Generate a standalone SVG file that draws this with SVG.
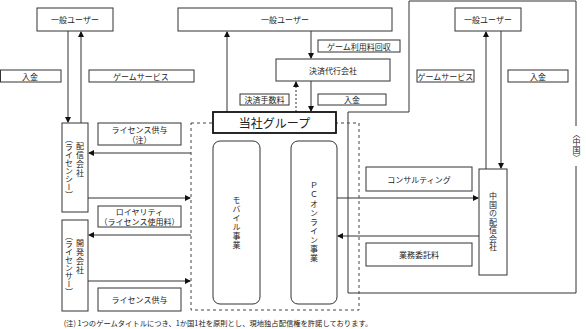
<svg xmlns="http://www.w3.org/2000/svg" width="586" height="329" viewBox="0 0 586 329">
<style>
.b{fill:#fff;stroke:#333;stroke-width:1}
.l{fill:none;stroke:#333;stroke-width:1}
.d{fill:none;stroke:#444;stroke-width:1;stroke-dasharray:3,3}
.t{font-family:"Noto Sans CJK JP","Noto Sans",sans-serif;font-size:8px;fill:#222;text-anchor:middle;dominant-baseline:central}
.v{font-family:"Noto Sans CJK JP","Noto Sans",sans-serif;font-size:8px;fill:#222;text-anchor:middle;writing-mode:vertical-rl}
</style>
<defs>
<marker id="a" markerWidth="6" markerHeight="6" refX="5" refY="3" orient="auto" markerUnits="userSpaceOnUse"><path d="M0,0 L6,3 L0,6 Z" fill="#111"/></marker>
</defs>
<rect width="586" height="329" fill="#fff"/>
<g id="connectors">
<line class="l" x1="68" y1="31" x2="68" y2="122" marker-end="url(#a)"/>
<line class="l" x1="81" y1="123" x2="81" y2="32" marker-end="url(#a)"/>
<line class="l" x1="227" y1="112" x2="227" y2="32" marker-end="url(#a)"/>
<line class="l" x1="311" y1="31" x2="311" y2="58" marker-end="url(#a)"/>
<line class="l" x1="296" y1="112" x2="296" y2="82" marker-end="url(#a)" stroke-dasharray="2,2"/>
<line class="l" x1="311" y1="81" x2="311" y2="111" marker-end="url(#a)"/>
<line class="l" x1="486" y1="169" x2="486" y2="32" marker-end="url(#a)"/>
<line class="l" x1="501" y1="31" x2="501" y2="168" marker-end="url(#a)"/>
<line class="l" x1="191" y1="153" x2="89" y2="153" marker-end="url(#a)"/>
<line class="l" x1="88" y1="198" x2="190" y2="198" marker-end="url(#a)"/>
<line class="l" x1="191" y1="235" x2="89" y2="235" marker-end="url(#a)"/>
<line class="l" x1="88" y1="281" x2="190" y2="281" marker-end="url(#a)"/>
<line class="l" x1="337" y1="198" x2="478" y2="198" marker-end="url(#a)"/>
<line class="l" x1="479" y1="236" x2="338" y2="236" marker-end="url(#a)"/>
<polyline class="l" points="348,293 348,112 409,112 409,1 576,1 576,126"/>
<polyline class="l" points="576,166 576,293 348,293"/>
<rect class="d" x="191" y="123" width="168" height="187"/>
</g>
<g id="user-left"><rect class="b" x="37" y="8" width="76" height="23"/><text class="t" x="75" y="19.5">一般ユーザー</text></g>
<g id="user-center"><rect class="b" x="178" y="8" width="214" height="23"/><text class="t" x="285" y="19.5">一般ユーザー</text></g>
<g id="user-right"><rect class="b" x="455" y="8" width="66" height="23"/><text class="t" x="488" y="19.5">一般ユーザー</text></g>
<g id="lbl-nyukin-left"><rect class="b" x="0.5" y="70" width="60.5" height="12"/><text class="t" x="30" y="76">入金</text></g>
<g id="lbl-game-left"><rect class="b" x="89" y="70" width="105" height="12"/><text class="t" x="141" y="76">ゲームサービス</text></g>
<g id="lbl-riyoryo"><rect class="b" x="318" y="40" width="82" height="12"/><text class="t" x="359" y="46">ゲーム利用料回収</text></g>
<g id="kessai"><rect class="b" x="276" y="59" width="114" height="22"/><text class="t" x="333" y="70">決済代行会社</text></g>
<g id="lbl-tesuryo"><rect class="b" x="240" y="94" width="49" height="11"/><text class="t" x="264.5" y="99.5">決済手数料</text></g>
<g id="lbl-nyukin-center"><rect class="b" x="318" y="94" width="68" height="11"/><text class="t" x="352" y="99.5">入金</text></g>
<g id="lbl-game-right"><rect class="b" x="417" y="70" width="57" height="12"/><text class="t" x="445.5" y="76">ゲームサービス</text></g>
<g id="lbl-nyukin-right"><rect class="b" x="508" y="70" width="60" height="12"/><text class="t" x="538" y="76">入金</text></g>
<g id="group"><rect x="213" y="112" width="123" height="21" fill="#fff" stroke="#111" stroke-width="1.8"/><text class="t" x="274.5" y="122.5" style="font-size:12px">当社グループ</text></g>
<g id="mobile"><rect class="b" x="213" y="141" width="47" height="163" rx="7"/><text class="v" x="236.5" y="222.5" style="letter-spacing:1px">モバイル事業</text></g>
<g id="pc"><rect class="b" x="291" y="141" width="46" height="163" rx="7"/><text class="v" x="314" y="222" style="letter-spacing:1px">ＰＣオンライン事業</text></g>
<g id="haishin"><rect class="b" x="62" y="123" width="26" height="89"/><text class="v" x="80" y="160" style="letter-spacing:1px">配信会社</text><text class="v" x="69" y="167">（ライセンシー）</text></g>
<g id="kaihatsu"><rect class="b" x="62" y="220" width="26" height="91"/><text class="v" x="80" y="257" style="letter-spacing:1px">開発会社</text><text class="v" x="69" y="264">（ライセンサー）</text></g>
<g id="lbl-license-note"><rect class="b" x="98" y="123" width="83" height="22"/><text class="t" x="139.5" y="129.5">ライセンス供与</text><text class="t" x="139.5" y="139">（注）</text></g>
<g id="lbl-royalty"><rect class="b" x="98" y="206" width="83" height="21"/><text class="t" x="139.5" y="211.5">ロイヤリティ</text><text class="t" x="139.5" y="221">（ライセンス使用料）</text></g>
<g id="lbl-license"><rect class="b" x="98" y="288" width="83" height="23"/><text class="t" x="139.5" y="299.5">ライセンス供与</text></g>
<g id="lbl-consulting"><rect class="b" x="366" y="167" width="106" height="24"/><text class="t" x="419" y="179">コンサルティング</text></g>
<g id="lbl-gyomu"><rect class="b" x="366" y="243" width="106" height="23"/><text class="t" x="419" y="254.5">業務委託料</text></g>
<g id="china-dist"><rect class="b" x="479" y="169" width="28" height="106"/><text class="v" x="493" y="222" style="letter-spacing:0.5px">中国の配信会社</text></g>
<g id="china-label"><text class="v" x="576.5" y="146">〈中国〉</text></g>
<g id="note"><text class="t" x="218" y="323" style="font-size:7.3px">(注) 1つのゲームタイトルにつき、1か国1社を原則とし、現地独占配信権を許諾しております。</text></g>
</svg>
